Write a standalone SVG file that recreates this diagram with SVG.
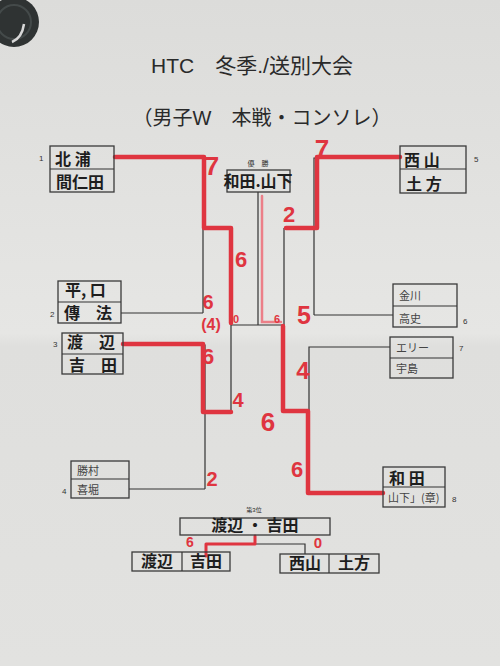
<svg xmlns="http://www.w3.org/2000/svg" width="500" height="666" viewBox="0 0 500 666">
<defs>
<linearGradient id="paper" x1="0" y1="0" x2="0" y2="1">
<stop offset="0" stop-color="#dcdcda"/>
<stop offset="0.5" stop-color="#e6e6e4"/>
<stop offset="0.52" stop-color="#dfdfdd"/>
<stop offset="1" stop-color="#e2e2e0"/>
</linearGradient>
<style>
.box{fill:none;stroke:#3a3a3a;stroke-width:1.3}
.ln{fill:none;stroke:#333;stroke-width:1.2}
.red{fill:none;stroke:#df3540;stroke-width:4.5;stroke-linejoin:round;stroke-linecap:round}
.pink{fill:none;stroke:#ec7f88;stroke-width:2.5;stroke-linecap:round}
.t{font-family:"Liberation Sans","Noto Sans CJK JP",sans-serif;fill:#2a2a2a}
.hw{font-family:"Noto Sans CJK JP",sans-serif;font-weight:bold;fill:#1e1e1e;font-size:16px}
.lt{font-family:"Noto Sans CJK JP",sans-serif;fill:#444;font-size:11px}
.num{font-family:"Liberation Sans",sans-serif;fill:#333;font-size:8px}
.sc{font-family:"Liberation Sans",sans-serif;font-weight:bold;fill:#df3540;text-anchor:middle}
</style>
</defs>
<rect width="500" height="666" fill="url(#paper)"/>
<circle cx="14" cy="22" r="25" fill="#2f3333"/>
<circle cx="14" cy="22" r="17" fill="none" stroke="#444a4a" stroke-width="2"/>
<path d="M24,24 Q22,38 12,42" fill="none" stroke="#d8d8d8" stroke-width="2.5"/>
<text class="t" x="252" y="73" font-size="21" text-anchor="middle">HTC　冬季./送別大会</text>
<text class="t" x="262" y="125" font-size="20" text-anchor="middle">（男子W　本戦・コンソレ）</text>

<g id="connectors">
<path class="ln" d="M115,158 H203 V313 M121,313 H203 M203,229 H231 M123,345 H205 V489 M129,489 H205 M205,411 H231 M231,229 V411 M231,325 H258 M258,192 V325"/>
<path class="ln" d="M400,158 H314 V315 M393,315 H314 M314,228 H285 M390,347 H309 V492 M383,492 H309 M309,411 H284 M284,228 V411 M284,325 H258"/>
<path class="ln" d="M255,535 V544 H305 V554 M206,544 V552"/>
<path class="red" d="M115,157 H204 V228 H231 V323"/>
<path class="red" d="M123,344 H203 V412 H231"/>
<path class="red" d="M400,157 H317 V228 H286"/>
<path class="red" d="M383,493 H308 V411 H283 V326"/>
<path class="pink" d="M262,196 V322 H281"/>
<path class="red" style="stroke-width:3" d="M255,536 V544 H206 V556"/>
</g>

<g id="seed1">
<rect class="box" x="50" y="146" width="64" height="46"/><line class="ln" x1="50" y1="169" x2="114" y2="169"/>
<text class="hw" x="55" y="165" font-size="17">北 浦</text><text class="hw" x="56" y="188" font-size="15">間仁田</text>
<text class="num" x="39" y="161">1</text>
</g>
<g id="seed2">
<rect class="box" x="58" y="281" width="63" height="42"/><line class="ln" x1="58" y1="302" x2="121" y2="302"/>
<text class="hw" x="65" y="296" font-size="13">平, 口</text><text class="hw" x="64" y="319" font-size="13">傳　法</text>
<text class="num" x="50" y="317">2</text>
</g>
<g id="seed3">
<rect class="box" x="62" y="333" width="61" height="41"/><line class="ln" x1="62" y1="354" x2="123" y2="354"/>
<text class="hw" x="67" y="348" font-size="13">渡　辺</text><text class="hw" x="69" y="371" font-size="13">吉　田</text>
<text class="num" x="53" y="347">3</text>
</g>
<g id="seed4">
<rect class="box" x="71" y="461" width="58" height="37"/><line class="ln" x1="71" y1="479" x2="129" y2="479"/>
<text class="lt" x="77" y="475">勝村</text><text class="lt" x="77" y="494">喜堀</text>
<text class="num" x="62" y="494">4</text>
</g>
<g id="seed5">
<rect class="box" x="400" y="146" width="66" height="47"/><line class="ln" x1="400" y1="169" x2="466" y2="169"/>
<text class="hw" x="404" y="166" font-size="17">西 山</text><text class="hw" x="406" y="190" font-size="17">土 方</text>
<text class="num" x="474" y="162">5</text>
</g>
<g id="seed6">
<rect class="box" x="393" y="284" width="64" height="43"/><line class="ln" x1="393" y1="306" x2="457" y2="306"/>
<text class="lt" x="399" y="300">金川</text><text class="lt" x="399" y="323">高史</text>
<text class="num" x="463" y="324">6</text>
</g>
<g id="seed7">
<rect class="box" x="390" y="337" width="63" height="41"/><line class="ln" x1="390" y1="358" x2="453" y2="358"/>
<text class="lt" x="396" y="352">エリー</text><text class="lt" x="396" y="373">宇島</text>
<text class="num" x="459" y="351">7</text>
</g>
<g id="seed8">
<rect class="box" x="383" y="467" width="62" height="40"/><line class="ln" x1="383" y1="487" x2="445" y2="487"/>
<text class="hw" x="389" y="484" font-size="16">和 田</text><text class="lt" x="388" y="502" font-size="8.5">山下」(章)</text>
<text class="num" x="452" y="502">8</text>
</g>
<g id="champion">
<text class="t" x="258" y="166" font-size="7" text-anchor="middle">優　勝</text>
<rect class="box" x="227" y="170" width="63" height="22"/>
<text class="hw" x="258" y="187" font-size="14" text-anchor="middle">和田.山下</text>
</g>
<g id="third">
<text class="t" x="254" y="512" font-size="6" text-anchor="middle">第3位</text>
<rect class="box" x="180" y="518" width="150" height="17"/>
<text class="hw" x="255" y="531" font-size="13" text-anchor="middle">渡辺 ・ 吉田</text>
</g>
<g id="third-left">
<rect class="box" x="132" y="552" width="98" height="19"/><line class="ln" x1="182" y1="552" x2="182" y2="571"/>
<text class="hw" x="157" y="567" font-size="14" text-anchor="middle">渡辺</text><text class="hw" x="206" y="567" font-size="14" text-anchor="middle">吉田</text>
</g>
<g id="third-right">
<rect class="box" x="280" y="554" width="99" height="19"/><line class="ln" x1="329" y1="554" x2="329" y2="573"/>
<text class="hw" x="305" y="569" font-size="14" text-anchor="middle">西山</text><text class="hw" x="354" y="569" font-size="14" text-anchor="middle">土方</text>
</g>

<g id="scores">
<text class="sc" x="212" y="175" font-size="26">7</text>
<text class="sc" x="322" y="158" font-size="26">7</text>
<text class="sc" x="289" y="222" font-size="22">2</text>
<text class="sc" x="241" y="267" font-size="22">6</text>
<text class="sc" x="208" y="309" font-size="20">6</text>
<text class="sc" x="211" y="330" font-size="16">(4)</text>
<text class="sc" x="236" y="323" font-size="11">0</text>
<text class="sc" x="277" y="323" font-size="11">6</text>
<text class="sc" x="304" y="324" font-size="25">5</text>
<text class="sc" x="208" y="364" font-size="22">6</text>
<text class="sc" x="238" y="407" font-size="20">4</text>
<text class="sc" x="303" y="379" font-size="24">4</text>
<text class="sc" x="268" y="431" font-size="26">6</text>
<text class="sc" x="297" y="477" font-size="22">6</text>
<text class="sc" x="212" y="486" font-size="20">2</text>
<text class="sc" x="190" y="547" font-size="14">6</text>
<text class="sc" x="318" y="548" font-size="15">0</text>
</g>
</svg>
